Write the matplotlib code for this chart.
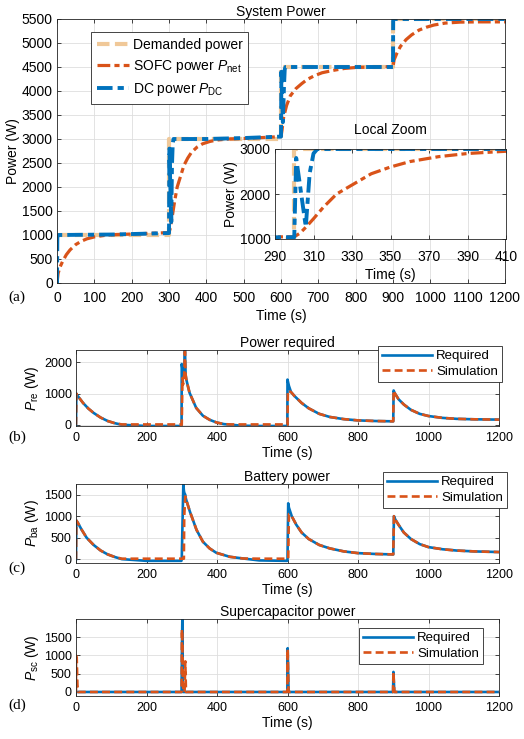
import matplotlib
matplotlib.use("Agg")
import matplotlib.pyplot as plt

plt.rcParams['font.family'] = ['Liberation Sans', 'DejaVu Sans']
plt.rcParams['mathtext.fontset'] = 'custom'
plt.rcParams['mathtext.rm'] = 'Liberation Sans'
plt.rcParams['mathtext.it'] = 'Liberation Sans:italic'

BLUE = '#0072BD'
ORANGE = '#D95319'
TAN = '#F0C898'
GRID = '#dedede'
EDGE = '#262626'

# ---- (a) system power ----
t_dem = [0, 300, 300, 600, 600, 900, 900, 1200]
p_dem = [1000, 1000, 3000, 3000, 4500, 4500, 5500, 5500]

t_sofc = [0, 3, 8, 15, 25, 35, 50, 65, 80, 100, 130, 160, 200, 250, 300,
          303, 306, 310, 315, 322, 330, 340, 350, 360, 375, 390, 410, 430, 460, 500, 550, 600,
          603, 607, 615, 625, 640, 655, 670, 690, 710, 740, 770, 800, 850, 900,
          903, 910, 920, 935, 950, 970, 990, 1010, 1040, 1080, 1130, 1200]
p_sofc = [0, 200, 330, 450, 590, 690, 800, 870, 920, 960, 995, 1010, 1020, 1035, 1050,
          1130, 1260, 1450, 1700, 2000, 2200, 2450, 2600, 2720, 2830, 2900, 2950, 2980, 3000, 3010, 3030, 3050,
          3200, 3450, 3700, 3900, 4050, 4150, 4240, 4320, 4380, 4430, 4470, 4490, 4500, 4510,
          4650, 4780, 4930, 5070, 5170, 5270, 5330, 5375, 5415, 5435, 5440, 5440]

t_dc = [0, 1, 2, 4, 150, 300, 301, 306, 308, 310, 312, 400, 500, 600,
        601, 605, 608, 610, 612, 700, 800, 900, 900.5, 1200]
p_dc = [0, 1050, 980, 1000, 1010, 1040, 2800, 1270, 2460, 2900, 3000, 3000, 3020, 3050,
        4400, 3350, 4100, 4450, 4500, 4500, 4500, 4500, 5500, 5500]

# ---- (b) power required ----
t_re = [0, 1, 3, 10, 20, 35, 50, 70, 90, 110, 130, 200, 299.5,
        300, 302, 304, 307, 309, 311, 313, 322, 341, 360, 379, 398, 420, 440, 470, 520, 599.5,
        600, 601, 604, 610, 620, 640, 660, 690, 720, 760, 800, 850, 899.5,
        900, 901, 905, 915, 930, 950, 975, 1000, 1040, 1080, 1130, 1200]
p_re_req = [0, 1000, 950, 850, 700, 520, 380, 230, 120, 50, 0, -40, -40,
            1950, 1800, 1500, 1700, 2450, 1600, 1450, 1030, 540, 290, 160, 75, 20, 0, -30, -40, -40,
            1450, 1400, 1250, 1050, 920, 700, 530, 350, 250, 180, 140, 120, 110,
            110, 1100, 1000, 820, 650, 480, 350, 280, 220, 190, 175, 165]
p_re_sim = [0, 1000, 950, 850, 700, 520, 380, 230, 120, 50, 10, 10, 10,
            0, 1500, 1300, 1600, 2350, 1600, 1450, 1030, 540, 290, 160, 75, 20, 10, 10, 10, 10,
            0, 1100, 1080, 1050, 920, 700, 530, 350, 250, 180, 140, 120, 110,
            110, 1100, 1000, 820, 650, 480, 350, 280, 220, 190, 175, 165]

# ---- (c) battery power ----
t_ba = [0, 1, 5, 15, 30, 50, 70, 90, 110, 130, 200, 299,
        300, 304.5, 306, 307, 310, 312, 323, 342, 360, 379, 398, 436, 474, 520, 599,
        600, 602, 604, 606, 612, 625, 640, 660, 690, 720, 760, 800, 850, 899,
        900, 902, 906, 915, 930, 950, 975, 1000, 1040, 1080, 1130, 1200]
p_ba_req = [0, 900, 850, 700, 500, 330, 200, 110, 50, 0, -40, -40,
            0, 1750, 1600, 1550, 1500, 1400, 1110, 680, 406, 250, 148, 55, 15, -30, -40,
            0, 1300, 1200, 1150, 1000, 800, 620, 470, 330, 250, 180, 140, 120, 110,
            110, 1000, 920, 800, 620, 470, 350, 280, 230, 200, 180, 165]
p_ba_sim = [0, 900, 850, 700, 500, 330, 200, 110, 50, 10, 10, 10,
            10, 10, 10, 1000, 1460, 1400, 1110, 680, 406, 250, 148, 55, 15, 10, 10,
            10, 10, 1050, 1050, 1000, 800, 620, 470, 330, 250, 180, 140, 120, 110,
            110, 1000, 920, 800, 620, 470, 350, 280, 230, 200, 180, 165]

# ---- (d) supercapacitor power ----
t_sc = [0, 0.01, 2, 4, 6, 299.5, 300.5, 301.7, 303, 305, 308, 310, 312, 599.5, 600.5, 603,
        899.5, 900.5, 903, 1200]
p_sc_req = [0, 0, 0, 0, 0, 0, 1200, 2000, 0, 0, 0, 0, 0, 0, 1200, 0, 0, 550, 0, 0]
p_sc_sim = [0, 1000, 950, 200, 0, 0, 1720, 1400, 300, 0, 0, 840, 0, 0, 1180, 0, 0, 550, 0, 0]

W, H = 524, 739
fig = plt.figure(figsize=(W / 100, H / 100), dpi=100)


def px_axes(l, t, r, b):
    return fig.add_axes([l / W, 1 - b / H, (r - l) / W, (b - t) / H])


def style(ax, fs, xpad=3):
    ax.grid(True, color=GRID, lw=0.6)
    ax.set_axisbelow(True)
    ax.tick_params(direction='in', top=True, right=True, labelsize=fs, length=3,
                   width=0.6, color=EDGE, pad=3)
    ax.tick_params(axis='x', pad=xpad)
    for s in ax.spines.values():
        s.set_color(EDGE)
        s.set_linewidth(0.6)


dash_dot = (0, (4, 1.3, 1.6, 1.3))

# (a)
axa = px_axes(57, 19, 505, 283)
axa.plot(t_dem, p_dem, color=TAN, lw=3, ls=(0, (3, 1.3)), label='Demanded power')
axa.plot(t_sofc, p_sofc, color=ORANGE, lw=2.3, ls=dash_dot, label=r'SOFC power $P_{\mathrm{net}}$')
axa.plot(t_dc, p_dc, color=BLUE, lw=2.8, ls=dash_dot, label=r'DC power $P_{\mathrm{DC}}$')
axa.set_xlim(0, 1200)
axa.set_ylim(0, 5500)
axa.set_xticks(range(0, 1201, 100))
axa.set_yticks(range(0, 5501, 500))
style(axa, 10, xpad=6)
axa.set_title('System Power', fontsize=10, pad=2)
axa.set_xlabel('Time (s)', fontsize=10, labelpad=3)
axa.set_ylabel('Power (W)', fontsize=10, labelpad=1)
leg = axa.legend(loc='upper left', bbox_to_anchor=(91 / W, 1 - 32 / H), bbox_transform=fig.transFigure,
                 borderaxespad=0, fontsize=10, handlelength=2.3, handletextpad=0.3,
                 fancybox=False, framealpha=1, edgecolor=EDGE, labelspacing=0.45, borderpad=0.4)
leg.get_frame().set_linewidth(0.6)

# inset
axi = px_axes(275, 149, 506, 239)
axi.plot(t_dem, p_dem, color=TAN, lw=3, ls=(0, (3, 1.3)))
axi.plot(t_sofc, p_sofc, color=ORANGE, lw=2.3, ls=dash_dot)
axi.plot(t_dc, p_dc, color=BLUE, lw=2.8, ls=dash_dot)
axi.set_xlim(290, 410)
axi.set_ylim(1000, 3000)
axi.set_xticks(range(290, 411, 20))
axi.set_yticks([1000, 2000, 3000])
style(axi, 10, xpad=8)
axi.set_title('Local Zoom', fontsize=10, pad=11)
axi.set_xlabel('Time (s)', fontsize=10, labelpad=3)
axi.set_ylabel('Power (W)', fontsize=10, labelpad=1)

fig.text(8 / W, 1 - 297 / H, '(a)', family='Liberation Serif', fontsize=11, va='center')


def lower_panel(top, bottom, tv, req, sim, ylim, yticks, title, ylab, leg_xy, tag, tag_y):
    ax = px_axes(76, top, 499, bottom)
    ax.plot(tv, req, color=BLUE, lw=1.9, label='Required')
    ax.plot(tv, sim, color=ORANGE, lw=1.9, ls=(0, (3, 1.6)), label='Simulation')
    ax.set_xlim(0, 1200)
    ax.set_ylim(*ylim)
    ax.set_xticks(range(0, 1201, 200))
    ax.set_yticks(yticks)
    style(ax, 9, xpad=4)
    ax.set_title(title, fontsize=10, pad=2)
    ax.set_xlabel('Time (s)', fontsize=10, labelpad=2)
    ax.set_ylabel(ylab, fontsize=10, labelpad=2)
    lg = ax.legend(loc='upper left', bbox_to_anchor=(leg_xy[0] / W, 1 - leg_xy[1] / H),
                   bbox_transform=fig.transFigure, borderaxespad=0, fontsize=9.5,
                   handlelength=3.8, handletextpad=0.3, fancybox=False, framealpha=1,
                   edgecolor=EDGE, labelspacing=0.25, borderpad=0.3)
    lg.get_frame().set_linewidth(0.6)
    fig.text(8 / W, 1 - tag_y / H, tag, family='Liberation Serif', fontsize=11, va='center')
    return ax


lower_panel(350, 426, t_re, p_re_req, p_re_sim, (-40, 2400), [0, 1000, 2000],
            'Power required', r'$P_{\mathrm{re}}$ (W)', (378, 346), '(b)', 437)
lower_panel(484, 563, t_ba, p_ba_req, p_ba_sim, (-90, 1750), [0, 500, 1000, 1500],
            'Battery power', r'$P_{\mathrm{ba}}$ (W)', (383, 472), '(c)', 568)
lower_panel(619, 696, t_sc, p_sc_req, p_sc_sim, (-110, 2000), [0, 500, 1000, 1500],
            'Supercapacitor power', r'$P_{\mathrm{sc}}$ (W)', (359, 628), '(d)', 705)

fig.savefig('out.png', dpi=100)
